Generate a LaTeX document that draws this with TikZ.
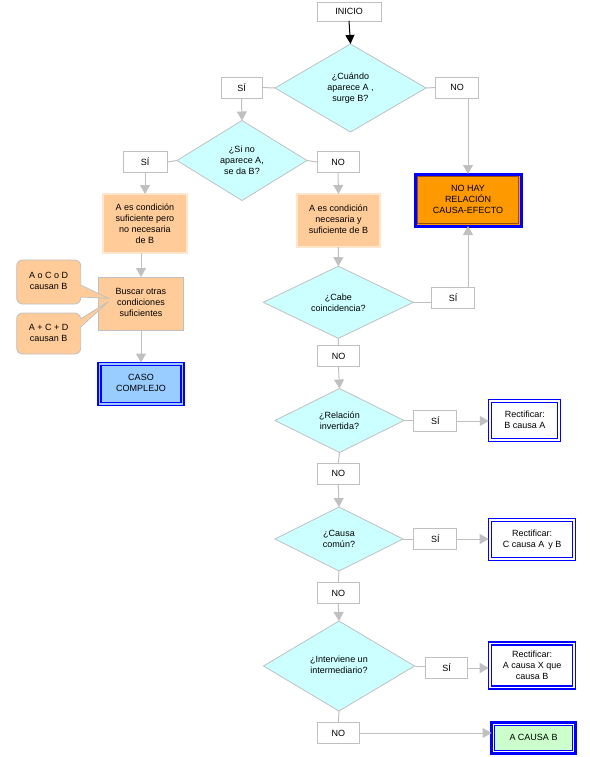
\documentclass[tikz,border=0pt]{standalone}
\usepackage{fontspec}
\setmainfont{Liberation Sans}
\usetikzlibrary{shapes.geometric,arrows.meta,calc}
\definecolor{lgray}{HTML}{C0C0C0}
\definecolor{dfill}{HTML}{CCFFFF}
\definecolor{ofill}{HTML}{FFCC99}
\definecolor{nofill}{HTML}{FF9900}
\definecolor{bfill}{HTML}{99CCFF}
\definecolor{gfill}{HTML}{CCFFCC}
\definecolor{bblue}{HTML}{0000FF}
\newcommand\upbox[2]{\raisebox{#1pt}{\begin{tabular}{@{}c@{}}#2\end{tabular}}}
\begin{document}
\begin{tikzpicture}[x=1pt,y=-1pt,font=\fontsize{9}{11}\selectfont,
  every node/.style={inner sep=0pt,outer sep=0pt,align=center},
  lbl/.style={draw=lgray,fill=white,line width=0.8pt,minimum width=42pt,minimum height=21pt},
  dec/.style={diamond,draw=lgray,fill=dfill,line width=0.8pt},
  obox/.style={draw=lgray,double=ofill!50!white,double distance=1.2pt,line width=0.8pt,fill=ofill},
  innerframe/.style={path picture={\draw[draw=bblue,line width=1.1pt,fill=#1] ([shift={(3pt,-3pt)}]path picture bounding box.north west) rectangle ([shift={(-3pt,3pt)}]path picture bounding box.south east);}},
  rbox/.style={draw=bblue,line width=1.1pt,fill=white,innerframe=white},
  call/.style={draw=lgray,fill=ofill,line width=0.8pt,rounded corners=6pt,minimum width=64pt},
  conn/.style={draw=lgray,line width=1pt},
  arr/.style={conn,-{Triangle[length=9pt,width=10pt]}},
]
\useasboundingbox (0,0) rectangle (589,757);
% top
\node[lbl,minimum width=64pt,minimum height=19pt] (inicio) at (349,11.5) {INICIO};
\node[dec,minimum width=151pt,minimum height=88pt] (d1) at (350.5,88) {¿Cuándo\\aparece A ,\\surge B?};
\node[lbl,minimum width=41pt] (si1) at (241.5,87.5) {SÍ};
\node[lbl,minimum width=43pt] (no1) at (457,87.5) {NO};
\node[dec,minimum width=130pt,minimum height=80pt] (d2) at (242,160.5) {¿Si no\\aparece A,\\se da B?};
\node[lbl,minimum width=44pt] (si2) at (145,162) {SÍ};
\node[lbl] (no2) at (338,162) {NO};
\node[obox,minimum width=84pt,minimum height=59pt] (c1) at (145,223.5) {A es condición\\suficiente pero\\no necesaria\\de B};
\node[obox,minimum width=83pt,minimum height=53pt] (c2) at (338.5,220.5) {\upbox{3}{A es condición\\necesaria y\\suficiente de B}};
\node[draw=lgray,fill=ofill,line width=0.8pt,minimum width=85pt,minimum height=53pt] (buscar) at (141,303.5) {\upbox{6}{Buscar otras\\condiciones\\suficientes}};
\node[draw=bblue,line width=1.1pt,fill=bfill,innerframe=bfill,minimum width=86pt,minimum height=43pt] (caso) at (141,384) {\upbox{3}{CASO\\COMPLEJO}};
\node[call,minimum height=44pt] (call1) at (48.7,282) {\upbox{4}{A o C o D\\causan B}};
\node[call,minimum height=41pt] (call2) at (48.7,333.5) {\upbox{5}{A + C + D\\causan B}};
\node[draw=bblue,line width=3pt,fill=nofill,minimum width=106pt,minimum height=52pt,
  path picture={\draw[orange!60!black,line width=0.6pt] ([shift={(2.5pt,-2.5pt)}]path picture bounding box.north west) rectangle ([shift={(-2.5pt,2.5pt)}]path picture bounding box.south east);}] (nohay) at (468,200) {\upbox{4}{NO HAY\\RELACIÓN\\CAUSA-EFECTO}};
% middle column
\node[dec,minimum width=150pt,minimum height=64pt] (d3) at (338.3,302.3) {¿Cabe\\coincidencia?};
\node[lbl,minimum width=43pt] (si3) at (453,298) {SÍ};
\node[lbl] (no3) at (338.5,356) {NO};
\node[dec,minimum width=129pt,minimum height=64pt] (d4) at (339.5,420.5) {¿Relación\\invertida?};
\node[lbl,minimum width=43pt] (si4) at (435.3,421) {SÍ};
\node[rbox,minimum width=72pt,minimum height=42pt] (r1) at (524.8,420.3) {\upbox{3}{Rectificar:\\B causa A}};
\node[lbl] (no4) at (338.3,473.5) {NO};
\node[dec,minimum width=128pt,minimum height=64pt] (d5) at (339,539) {¿Causa\\común?};
\node[lbl,minimum width=43pt] (si5) at (435.3,539) {SÍ};
\node[rbox,minimum width=87pt,minimum height=42pt] (r2) at (532.2,539.5) {\upbox{4}{Rectificar:\\C causa A\, y B}};
\node[lbl] (no5) at (338.3,593) {NO};
\node[dec,minimum width=151pt,minimum height=90pt] (d6) at (339,666) {\upbox{5}{¿Interviene un\\intermediario?}};
\node[lbl] (si6) at (446.7,668) {SÍ};
\node[rbox,minimum width=87pt,minimum height=47pt] (r3) at (532.2,665.5) {Rectificar:\\A causa X que\\causa B};
\node[lbl] (no6) at (338.3,733) {NO};
\node[draw=bblue,line width=3pt,fill=white,minimum width=84pt,minimum height=31pt,
  path picture={\draw[bblue,fill=gfill,line width=0.8pt] ([shift={(2.8pt,-2.8pt)}]path picture bounding box.north west) rectangle ([shift={(-2.8pt,2.8pt)}]path picture bounding box.south east);}] (acb) at (533.5,738) {\upbox{3}{A CAUSA B}};
% connectors
\draw[line width=1pt,-{Triangle[length=9pt,width=9pt]}] (inicio.south) -- (d1.north);
\draw[conn] (d1.west) -- (si1.east);
\draw[conn] (d1.east) -- (no1.west);
\draw[arr] (si1.south) -- (d2.north);
\draw[arr] (no1.south -| nohay.north) -- (nohay.north);
\draw[conn] (d2.west) -- (si2.east);
\draw[conn] (d2.east) -- (no2.west);
\draw[arr] (si2.south) -- (c1.north);
\draw[arr] (no2.south) -- (c2.north);
\draw[arr] (c1.south -| buscar.north) -- (buscar.north);
\draw[arr] (c2.south) -- (d3.north);
\draw[arr] (buscar.south) -- (caso.north);
\draw[conn] (d3.east) -- (d3.east -| si3.west);
\draw[arr] (si3.north -| nohay.south) -- (nohay.south);
\draw[conn] (d3.south) -- (no3.north);
\draw[arr] (no3.south) -- (d4.north);
\draw[conn] (d4.east) -- (d4.east -| si4.west);
\draw[arr] (si4.east) -- (si4.east -| r1.west);
\draw[conn] (d4.south) -- (no4.north);
\draw[arr] (no4.south) -- (d5.north);
\draw[conn] (d5.east) -- (si5.west);
\draw[arr] (si5.east) -- (si5.east -| r2.west);
\draw[conn] (d5.south) -- (no5.north);
\draw[arr] (no5.south) -- (d6.north);
\draw[conn] (d6.east) -- (d6.east -| si6.west);
\draw[arr] (si6.east) -- (si6.east -| r3.west);
\draw[conn] (d6.south) -- (no6.north);
\draw[arr] (no6.east) -- (no6.east -| acb.west);
% callout tails
\coordinate (t1) at (108.3,298.3);
\coordinate (t2) at (108.3,301.7);
\fill[ofill] ($(call1.east)+(-1,3)$) -- (t1) -- ($(call1.east)+(-1,15)$) -- cycle;
\draw[lgray,line width=0.8pt] ($(call1.east)+(0,3)$) -- (t1) -- ($(call1.east)+(0,15)$);
\fill[ofill] ($(call2.north east)+(-1,6)$) -- (t2) -- ($(call2.north east)+(-1,14)$) -- cycle;
\draw[lgray,line width=0.8pt] ($(call2.north east)+(0,6)$) -- (t2) -- ($(call2.north east)+(0,14)$);
\end{tikzpicture}
\end{document}
